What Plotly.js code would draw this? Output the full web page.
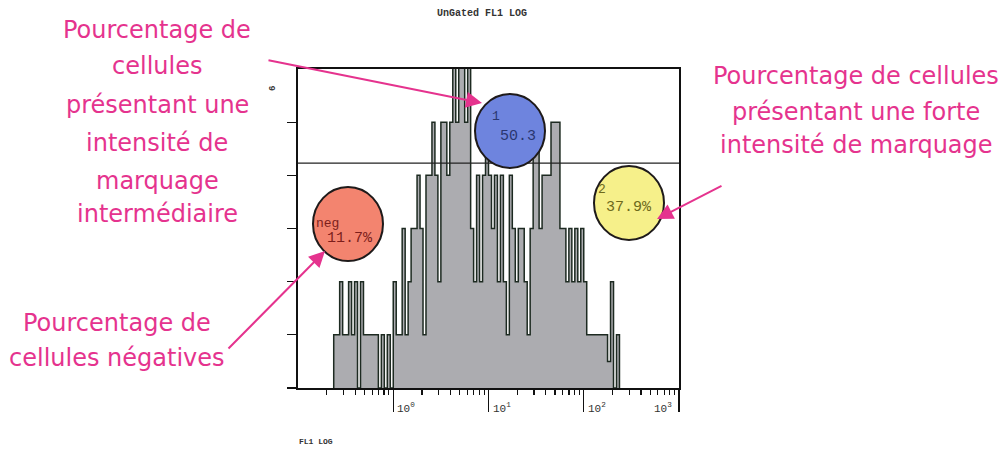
<!DOCTYPE html>
<html>
<head>
<meta charset="utf-8">
<script src="https://cdn.plot.ly/plotly-3.0.1.min.js"></script>
<style>
  html, body { margin: 0; padding: 0; background: #ffffff; }
  #chart { width: 1003px; height: 450px; }
</style>
</head>
<body>
<div id="chart"></div>
<script>
// ---- data (FL1 LOG histogram, log channels of 1/32 decade starting at 10^-0.625) ----
const channelStartLog = -0.625;
const channelsPerDecade = 32;
const counts = [
  1, 1, 2, 1, 1, 2, 1, 2, 0, 2,
  1, 1, 1, 1, 1, 0, 1, 0, 1, 0,
  2, 1, 1, 3, 1, 2, 3, 3, 4, 3,
  1, 4, 4, 5, 4, 2, 5, 5, 4, 5,
  7, 5, 7, 7, 5, 7, 3, 2, 4, 2,
  4, 5, 4, 3, 4, 2, 4, 2, 1, 4,
  3, 2, 3, 3, 2, 1, 3, 5, 5, 3,
  4, 4, 4, 5, 5, 5, 3, 3, 2, 3,
  2, 3, 2, 3, 2, 1, 1, 1, 1, 1,
  1, 1, 0.5, 2, 0, 1
];
const majorTicks = [1, 10, 100, 1000];
const majorTickLabels = ['10<sup>0</sup>', '10<sup>1</sup>', '10<sup>2</sup>', '10<sup>3</sup>'];
const minorTicks = [0.2,0.3,0.4,0.5,0.6,0.7,0.8,0.9, 2,3,4,5,6,7,8,9, 20,30,40,50,60,70,80,90, 200,300,400,500,600,700,800,900];
const yTicks = [0, 1, 2, 3, 4, 5];
const yMaxLabel = '6';
const gateLevel = 4.23;
const regionNames = ['neg', '1', '2'];
const regionPercents = ['11.7%', '50.3', '37.9%'];
const chartTitle = 'UnGated FL1 LOG';
const axisTitle = 'FL1 LOG';
const noteIntermediate = ['Pourcentage de', 'cellules', 'présentant une', 'intensité de', 'marquage', 'intermédiaire'];
const noteStrong = ['Pourcentage de cellules', 'présentant une forte', 'intensité de marquage'];
const noteNegative = ['Pourcentage de', 'cellules négatives'];

// ---- build step histogram from channels ----
const xs = [], ys = [];
const edge = i => Math.pow(10, channelStartLog + i / channelsPerDecade);
xs.push(edge(0)); ys.push(0);
counts.forEach((c, i) => { xs.push(edge(i)); ys.push(c); });
xs.push(edge(counts.length)); ys.push(counts[counts.length - 1]);
xs.push(edge(counts.length)); ys.push(0);

// ---- geometry helpers (plot area in pixels) ----
const L = 298, R = 679, T = 69, B = 388;
const px = p => (p - L) / (R - L);
const py = p => (B - p) / (B - T);

const pink = '#e5338e';
const handFont = '"DejaVu Sans", "Noto Sans", sans-serif';
const monoFont = '"Liberation Mono", "DejaVu Sans Mono", monospace';

const trace = {
  type: 'scatter', mode: 'lines',
  x: xs, y: ys,
  line: { shape: 'hv', color: '#1d2a21', width: 1.5 },
  fill: 'tozeroy', fillcolor: '#acacb0',
  hoverinfo: 'skip', showlegend: false
};

const annotations = [];
// hand-written notes, one annotation per line
const addLines = (lines, cx, ys, size) => lines.forEach((t, k) => annotations.push({
  text: t, xref: 'paper', yref: 'paper', x: px(cx), y: py(ys[k]),
  xanchor: 'center', yanchor: 'middle', showarrow: false,
  font: { family: handFont, size: size, color: pink }
}));
addLines(noteIntermediate, 157, [30, 66, 105, 143, 181, 214], 24);
addLines(noteStrong, 856, [76, 112, 145], 24);
addLines(noteNegative, 117, [323, 358], 24);

// arrows
const arrow = (tipX, tipY, tailX, tailY) => annotations.push({
  text: '', xref: 'paper', yref: 'paper', x: px(tipX), y: py(tipY),
  ax: tailX - tipX, ay: tailY - tipY, showarrow: true,
  arrowhead: 2, arrowsize: 1.6, arrowwidth: 2, arrowcolor: pink
});
arrow(482, 103, 267, 60);
arrow(657, 219, 723, 185);
arrow(325, 251, 227, 350);

// tick labels of the FL1 axis
majorTickLabels.forEach((t, k) => {
  const last = k === majorTickLabels.length - 1;
  annotations.push({
    text: t, xref: 'x', yref: 'paper', x: Math.log10(majorTicks[k]), y: py(399),
    xanchor: last ? 'right' : 'left', yanchor: 'top', xshift: last ? -5 : 2,
    showarrow: false, font: { family: monoFont, size: 11, color: '#333' }
  });
});
annotations.push({ text: '<b>' + axisTitle + '</b>', xref: 'paper', yref: 'paper',
  x: px(297), y: py(441), xanchor: 'left', yanchor: 'middle', showarrow: false,
  font: { family: monoFont, size: 8, color: '#333' } });
annotations.push({ text: '<b>' + yMaxLabel + '</b>', xref: 'paper', yref: 'paper',
  x: px(273), y: py(89), xanchor: 'center', yanchor: 'middle', textangle: -90, showarrow: false,
  font: { family: monoFont, size: 9, color: '#333' } });

// region labels in the circles
const circ = [
  { cx: 348, cy: 224, fill: '#f3846f', tc: '#7c1e1c', name: [314, 223], pct: [325, 238] },
  { cx: 510, cy: 131, fill: '#6e84de', tc: '#2a3670', name: [490, 116], pct: [498, 136] },
  { cx: 629, cy: 203, fill: '#f6f08a', tc: '#6e6a1c', name: [596, 189], pct: [604, 207] }
];
const shapes = [];
circ.forEach((c, k) => {
  shapes.push({ type: 'circle', xref: 'paper', yref: 'paper', layer: 'above',
    x0: px(c.cx - 35), x1: px(c.cx + 35), y0: py(c.cy + 37), y1: py(c.cy - 37),
    fillcolor: c.fill, line: { color: '#1e1a1a', width: 2 } });
  annotations.push({ text: regionNames[k], xref: 'paper', yref: 'paper', x: px(c.name[0]), y: py(c.name[1]),
    xanchor: 'left', yanchor: 'middle', showarrow: false, font: { family: monoFont, size: 13, color: c.tc } });
  annotations.push({ text: regionPercents[k], xref: 'paper', yref: 'paper', x: px(c.pct[0]), y: py(c.pct[1]),
    xanchor: 'left', yanchor: 'middle', showarrow: false, font: { family: monoFont, size: 15, color: c.tc } });
});
// gate line with its marker
shapes.unshift({ type: 'line', xref: 'paper', yref: 'y', x0: 0, x1: 1, y0: gateLevel, y1: gateLevel,
  line: { color: '#222', width: 1.2 }, layer: 'above' });
shapes.unshift({ type: 'line', xref: 'x', yref: 'y', x0: 0, x1: 0, y0: gateLevel - 0.07, y1: gateLevel + 0.07,
  line: { color: '#222', width: 3 }, layer: 'above' });

const layout = {
  width: 1003, height: 450,
  margin: { l: L, r: 1003 - R, t: T, b: 450 - B, pad: 0 },
  paper_bgcolor: '#ffffff', plot_bgcolor: '#ffffff',
  showlegend: false,
  title: { text: '<b>' + chartTitle + '</b>', xref: 'container', x: 482 / 1003, xanchor: 'center',
    y: 1 - 12 / 450, yanchor: 'middle', font: { family: monoFont, size: 10, color: '#333' } },
  xaxis: {
    type: 'log', range: [-1, 3], showgrid: false, zeroline: false,
    showline: true, linecolor: '#111', linewidth: 1.6, mirror: true,
    tickmode: 'array', tickvals: majorTicks, ticks: 'outside', ticklen: 22, tickwidth: 1.3,
    tickcolor: '#111', showticklabels: false,
    minor: { tickmode: 'array', tickvals: minorTicks, ticks: 'outside', ticklen: 5, tickwidth: 1.2, tickcolor: '#111' }
  },
  yaxis: {
    range: [0, 6], showgrid: false, zeroline: false,
    showline: true, linecolor: '#111', linewidth: 1.6, mirror: true,
    tickmode: 'array', tickvals: yTicks, ticks: 'outside', ticklen: 9, tickwidth: 1.3,
    tickcolor: '#111', showticklabels: false
  },
  shapes: shapes,
  annotations: annotations
};

Plotly.newPlot('chart', [trace], layout, { displayModeBar: false, staticPlot: true });
</script>
</body>
</html>
